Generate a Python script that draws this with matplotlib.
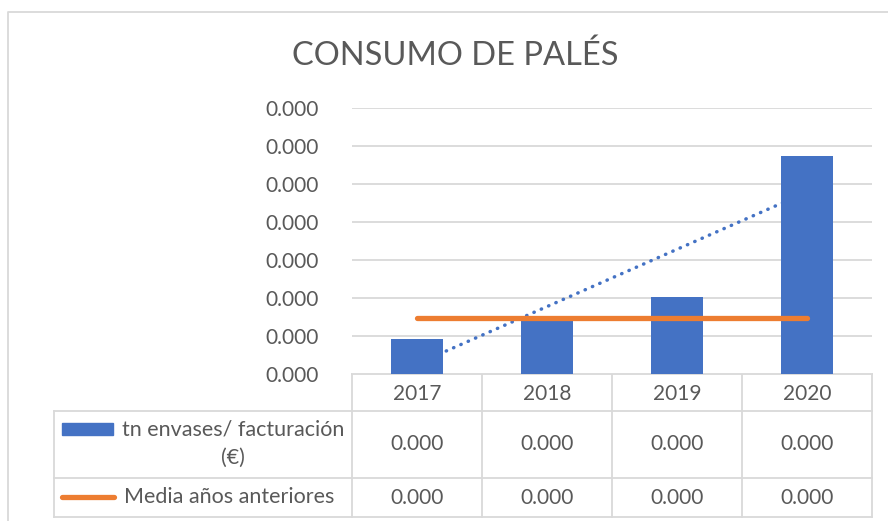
import numpy as np
import matplotlib.pyplot as plt
from matplotlib.ticker import MultipleLocator, FuncFormatter
from matplotlib.patches import Rectangle

# ===============================================================
# data (values are tiny, Excel shows them all as 0.000)
# ===============================================================
years = ['2017', '2018', '2019', '2020']
tn_envases = [0.0000092, 0.0000142, 0.0000203, 0.0000574]
media_anteriores = [0.0000148, 0.0000148, 0.0000148, 0.0000148]
label_bar = 'tn envases/ facturación'
label_bar2 = '(€)'
label_line = 'Media años anteriores'
title = 'CONSUMO DE PALÉS'

# ===============================================================
# plot settings
# ===============================================================
W, H = 888, 521
blue = '#4472c4'
orange = '#ed7d31'
grid_c = '#d9d9d9'
txt_c = '#595959'
font = 'Lato'
fs = 15

plt.rcParams['font.family'] = [font, 'DejaVu Sans']

fig = plt.figure(figsize=(W / 100, H / 100), dpi=100)

# plot area in pixels
x0, x1, ytop, ybot = 352, 872, 108, 374
ax = fig.add_axes([x0 / W, 1 - ybot / H, (x1 - x0) / W, (ybot - ytop) / H])

x = np.arange(len(years))
step = 0.00001

# trendline (behind bars)
coef = np.polyfit(x, tn_envases, 1)
ax.plot(x, np.polyval(coef, x), color=blue, lw=2.5, ls=(0, (0.1, 2.2)),
        dash_capstyle='round', zorder=2)
ax.bar(x, tn_envases, width=0.4, color=blue, zorder=3)
ax.plot(x, media_anteriores, color=orange, lw=3.8, solid_capstyle='round', zorder=4)

ax.set_xlim(-0.5, len(years) - 0.5)
ax.set_ylim(0, 7 * step)
ax.yaxis.set_major_locator(MultipleLocator(step))
ax.yaxis.set_major_formatter(FuncFormatter(lambda v, p: f'{v:.3f}'))
ax.grid(True, axis='y', color=grid_c, lw=1.3, zorder=0)
ax.set_xticks([])
ax.tick_params(axis='y', length=0, pad=24, labelsize=fs, labelcolor=txt_c)
for s in ax.spines.values():
    s.set_visible(False)

# ===============================================================
# overlay in pixel coordinates: border, title, data table
# ===============================================================
ov = fig.add_axes([0, 0, 1, 1], zorder=-1)
ov.set_xlim(0, W)
ov.set_ylim(H, 0)
ov.axis('off')

# chart border
ov.plot([8, 8, W + 5], [H + 5, 12, 12], color=grid_c, lw=1.3)

fig.text(0.5 + 11 / W, 1 - 56 / H, title, ha='center', va='center',
         fontsize=23.5, color=txt_c)

# table grid
col_w = (x1 - x0) / len(years)
cols = [x0 + i * col_w for i in range(len(years) + 1)]
r0, r1, r2, r3 = 374, 411, 478, 517
tl = 54
lk = dict(color=grid_c, lw=1.3, zorder=5)
for c in cols:
    ov.plot([c, c], [r0, r3], **lk)
ov.plot([tl, tl], [r1, r3], **lk)
ov.plot([x0, x1], [r0, r0], **lk)
for r in (r1, r2, r3):
    ov.plot([tl, x1], [r, r], **lk)

# header and values
for i, yr in enumerate(years):
    cx = cols[i] + col_w / 2
    ov.text(cx, (r0 + r1) / 2 + 1, yr, ha='center', va='center', fontsize=fs, color=txt_c)
    ov.text(cx, (r1 + r2) / 2, f'{tn_envases[i]:.3f}', ha='center', va='center',
            fontsize=fs, color=txt_c)
    ov.text(cx, (r2 + r3) / 2, f'{media_anteriores[i]:.3f}', ha='center', va='center',
            fontsize=fs, color=txt_c)

# row labels and legend keys
ov.add_patch(Rectangle((62, 423), 51, 12, color=blue))
ov.text(233, 429, label_bar, ha='center', va='center', fontsize=15.5, color=txt_c)
ov.text(233, 458, label_bar2, ha='center', va='center', fontsize=15.5, color=txt_c)
ov.plot([62, 114], [497, 497], color=orange, lw=3.8, solid_capstyle='round')
ov.text(229, 497, label_line, ha='center', va='center', fontsize=15.5, color=txt_c)

fig.savefig('out.png', dpi=100)
